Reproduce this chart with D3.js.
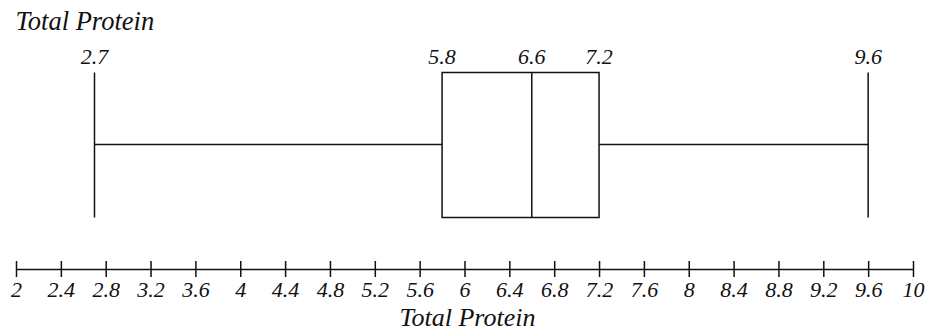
<!DOCTYPE html>
<html>
<head>
<meta charset="utf-8">
<script src="https://cdn.jsdelivr.net/npm/d3@7"></script>
<style>
  html, body { margin: 0; padding: 0; background: #fff; }
  svg { display: block; }
  text { font-family: "Liberation Serif", "Times New Roman", Times, "DejaVu Serif", serif; font-style: italic; fill: #111; }
</style>
</head>
<body>
<svg id="chart" width="928" height="333"></svg>
<script>
// ---- data ----
const statNames = ["min", "q1", "median", "q3", "max"];
const statValues = [2.7, 5.8, 6.6, 7.2, 9.6];
const statLabels = ["2.7", "5.8", "6.6", "7.2", "9.6"];
const tickValues = [2, 2.4, 2.8, 3.2, 3.6, 4, 4.4, 4.8, 5.2, 5.6, 6, 6.4, 6.8, 7.2, 7.6, 8, 8.4, 8.8, 9.2, 9.6, 10];
const tickLabels = ["2", "2.4", "2.8", "3.2", "3.6", "4", "4.4", "4.8", "5.2", "5.6", "6", "6.4", "6.8", "7.2", "7.6", "8", "8.4", "8.8", "9.2", "9.6", "10"];
const chartTitle = "Total Protein";
const axisTitle = "Total Protein";

// ---- layout ----
const svg = d3.select("#chart");
const x = d3.scaleLinear().domain([2, 10]).range([16, 913]);
const boxTop = 72.5, boxBottom = 217.5, boxMid = 144.5;
const axisY = 269;
const stroke = "#111";
const sw = 1.5;
const serif = "'Liberation Serif', 'Times New Roman', Times, serif";

const s = {};
statNames.forEach((n, i) => s[n] = statValues[i]);

// title
svg.append("text").attr("x", 15.5).attr("y", 29.5)
  .style("font-size", "26.5px").text(chartTitle);

const g = svg.append("g");
// whisker lines
g.append("line").attr("x1", x(s.min)).attr("x2", x(s.q1)).attr("y1", boxMid).attr("y2", boxMid)
  .attr("stroke", stroke).attr("stroke-width", sw);
g.append("line").attr("x1", x(s.q3)).attr("x2", x(s.max)).attr("y1", boxMid).attr("y2", boxMid)
  .attr("stroke", stroke).attr("stroke-width", sw);
// whisker ends
[s.min, s.max].forEach(v => {
  g.append("line").attr("x1", x(v)).attr("x2", x(v)).attr("y1", boxTop).attr("y2", boxBottom)
    .attr("stroke", stroke).attr("stroke-width", sw);
});
// box
g.append("rect").attr("x", x(s.q1)).attr("y", boxTop)
  .attr("width", x(s.q3) - x(s.q1)).attr("height", boxBottom - boxTop)
  .attr("fill", "none").attr("stroke", stroke).attr("stroke-width", sw);
// median
g.append("line").attr("x1", x(s.median)).attr("x2", x(s.median)).attr("y1", boxTop).attr("y2", boxBottom)
  .attr("stroke", stroke).attr("stroke-width", sw);

// value labels
g.selectAll("text.val").data(statValues).join("text")
  .attr("class", "val")
  .attr("x", d => x(d)).attr("y", 64)
  .attr("text-anchor", "middle")
  .style("font-size", "22px")
  .text((d, i) => statLabels[i]);

// axis
const axis = d3.axisBottom(x)
  .tickValues(tickValues)
  .tickFormat((d, i) => tickLabels[i])
  .tickSize(8)
  .tickSizeOuter(0);
const ag = svg.append("g").attr("transform", `translate(0,${axisY})`).call(axis);
ag.attr("font-family", null).attr("font-size", null);
ag.select(".domain").attr("stroke", stroke).attr("stroke-width", sw);
ag.selectAll(".tick line").attr("y1", -8).attr("y2", 8).attr("stroke", stroke).attr("stroke-width", sw);
ag.selectAll(".tick text").attr("y", 28).attr("dy", 0)
  .style("font-family", serif).style("font-style", "italic")
  .style("font-size", "22px").attr("fill", "#111");

// axis title
const [r0, r1] = x.range();
svg.append("text").attr("x", (r0 + r1) / 2 + 3).attr("y", 326).attr("text-anchor", "middle")
  .style("font-size", "26px").text(axisTitle);
</script>
</body>
</html>
